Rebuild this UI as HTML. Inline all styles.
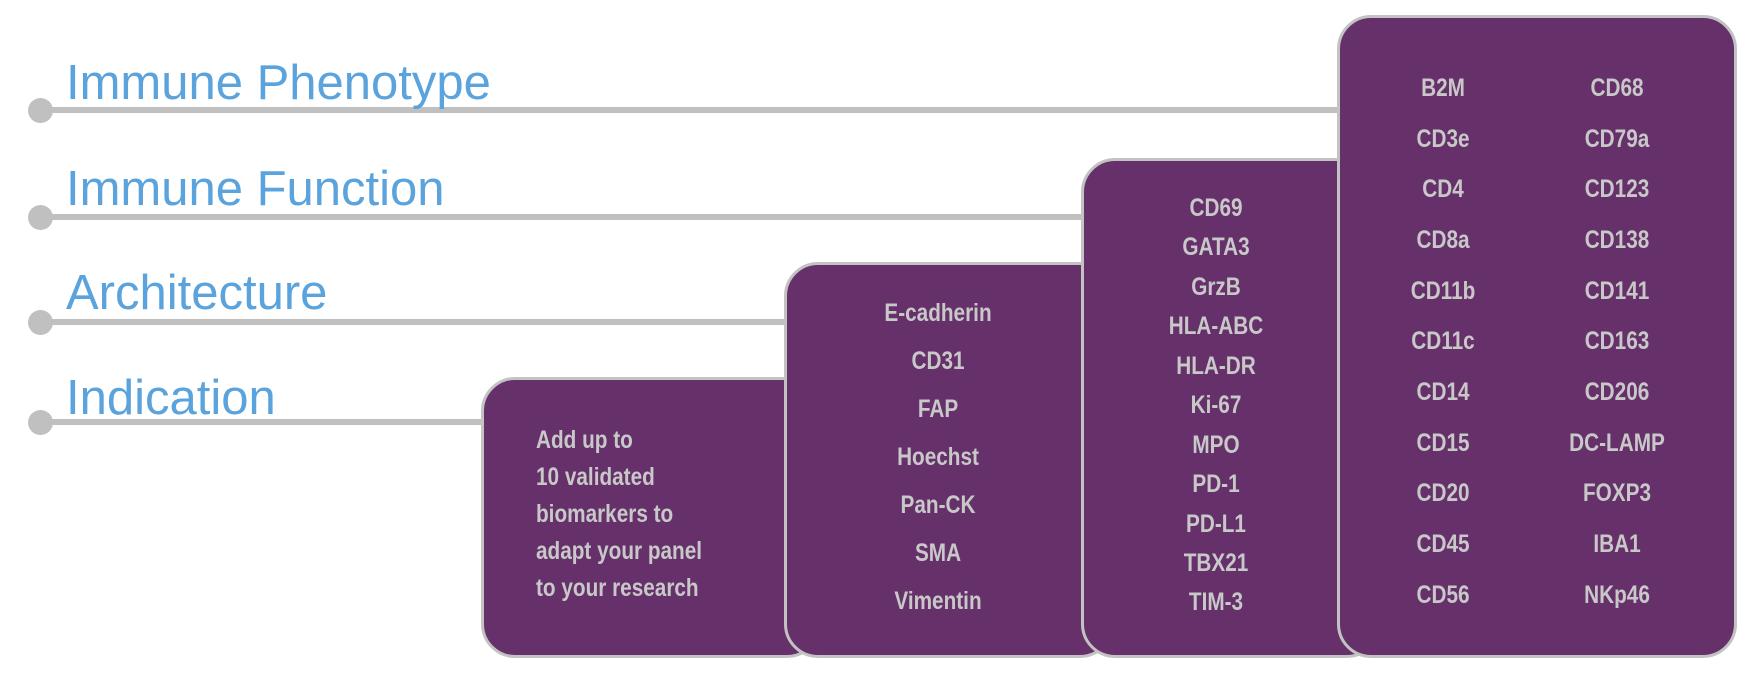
<!DOCTYPE html>
<html><head><meta charset="utf-8"><style>
body{margin:0;width:1752px;height:679px;background:#fff;position:relative;overflow:hidden;font-family:"Liberation Sans",sans-serif}
.line{position:absolute;left:40px;height:6px;background:#c0c0c0}
.dot{position:absolute;left:28px;width:25px;height:25px;border-radius:50%;background:#c0c0c0}
.lab{position:absolute;left:66px;font-size:49px;color:#5ba3dc;line-height:1}
.box{position:absolute;background:#66306b;border:3px solid #c3c3c3;border-radius:34px;box-sizing:border-box}
.t{position:absolute;font-weight:bold;font-size:25px;color:#c8c8c8;line-height:30px;white-space:nowrap;transform:translate(-50%,-50%) scaleX(0.83)}
.l{position:absolute;font-weight:bold;font-size:25px;color:#c8c8c8;line-height:30px;white-space:nowrap;transform:translateY(-50%) scaleX(0.83);transform-origin:left center}
</style></head><body>
<div class="line" style="top:107px;width:1320px"></div><div class="dot" style="top:98px"></div>
<div class="line" style="top:214px;width:1060px"></div><div class="dot" style="top:205px"></div>
<div class="line" style="top:319px;width:760px"></div><div class="dot" style="top:310px"></div>
<div class="line" style="top:419px;width:460px"></div><div class="dot" style="top:410px"></div>
<div class="lab" style="top:59px">Immune Phenotype</div>
<div class="lab" style="top:165px">Immune Function</div>
<div class="lab" style="top:269px">Architecture</div>
<div class="lab" style="top:374px">Indication</div>

<div class="box" style="left:481px;top:377px;width:340px;height:281px"></div>
<div class="box" style="left:784px;top:262px;width:330px;height:396px"></div>
<div class="box" style="left:1081px;top:158px;width:300px;height:500px"></div>
<div class="box" style="left:1337px;top:15px;width:400px;height:643px"></div>

<div class="l" style="left:536px;top:440px">Add up to</div>
<div class="l" style="left:536px;top:477px">10 validated</div>
<div class="l" style="left:536px;top:514px">biomarkers to</div>
<div class="l" style="left:536px;top:551px">adapt your panel</div>
<div class="l" style="left:536px;top:588px">to your research</div>

<div class="t" style="left:938px;top:313px">E-cadherin</div>
<div class="t" style="left:938px;top:361px">CD31</div>
<div class="t" style="left:938px;top:409px">FAP</div>
<div class="t" style="left:938px;top:457px">Hoechst</div>
<div class="t" style="left:938px;top:505px">Pan-CK</div>
<div class="t" style="left:938px;top:553px">SMA</div>
<div class="t" style="left:938px;top:601px">Vimentin</div>

<div class="t" style="left:1216px;top:208px">CD69</div>
<div class="t" style="left:1216px;top:247px">GATA3</div>
<div class="t" style="left:1216px;top:287px">GrzB</div>
<div class="t" style="left:1216px;top:326px">HLA-ABC</div>
<div class="t" style="left:1216px;top:366px">HLA-DR</div>
<div class="t" style="left:1216px;top:405px">Ki-67</div>
<div class="t" style="left:1216px;top:445px">MPO</div>
<div class="t" style="left:1216px;top:484px">PD-1</div>
<div class="t" style="left:1216px;top:524px">PD-L1</div>
<div class="t" style="left:1216px;top:563px">TBX21</div>
<div class="t" style="left:1216px;top:602px">TIM-3</div>

<div class="t" style="left:1443px;top:88px">B2M</div><div class="t" style="left:1617px;top:88px">CD68</div>
<div class="t" style="left:1443px;top:139px">CD3e</div><div class="t" style="left:1617px;top:139px">CD79a</div>
<div class="t" style="left:1443px;top:189px">CD4</div><div class="t" style="left:1617px;top:189px">CD123</div>
<div class="t" style="left:1443px;top:240px">CD8a</div><div class="t" style="left:1617px;top:240px">CD138</div>
<div class="t" style="left:1443px;top:291px">CD11b</div><div class="t" style="left:1617px;top:291px">CD141</div>
<div class="t" style="left:1443px;top:341px">CD11c</div><div class="t" style="left:1617px;top:341px">CD163</div>
<div class="t" style="left:1443px;top:392px">CD14</div><div class="t" style="left:1617px;top:392px">CD206</div>
<div class="t" style="left:1443px;top:443px">CD15</div><div class="t" style="left:1617px;top:443px">DC-LAMP</div>
<div class="t" style="left:1443px;top:493px">CD20</div><div class="t" style="left:1617px;top:493px">FOXP3</div>
<div class="t" style="left:1443px;top:544px">CD45</div><div class="t" style="left:1617px;top:544px">IBA1</div>
<div class="t" style="left:1443px;top:595px">CD56</div><div class="t" style="left:1617px;top:595px">NKp46</div>
</body></html>
